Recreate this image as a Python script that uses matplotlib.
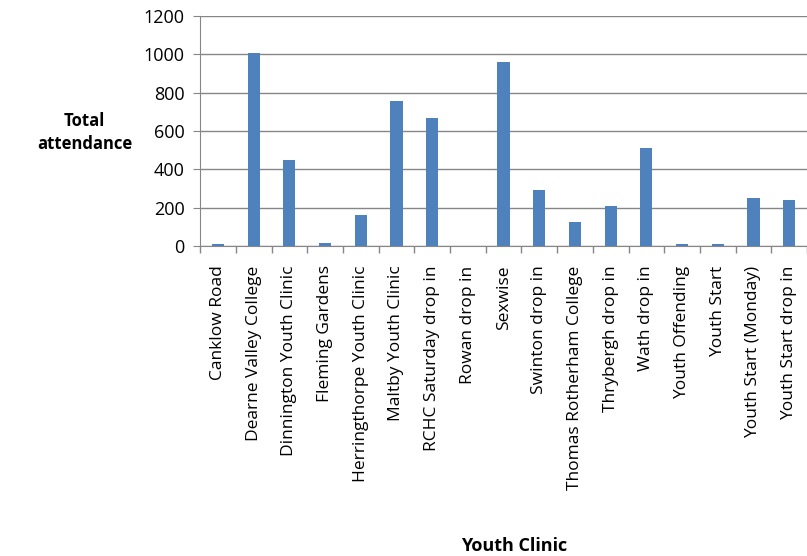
import numpy as np
import matplotlib
matplotlib.use("Agg")
import matplotlib.pyplot as plt

clinics = ['Canklow Road', 'Dearne Valley College', 'Dinnington Youth Clinic',
           'Fleming Gardens', 'Herringthorpe Youth Clinic', 'Maltby Youth Clinic',
           'RCHC Saturday drop in', 'Rowan drop in', 'Sexwise', 'Swinton drop in',
           'Thomas Rotherham College', 'Thrybergh drop in', 'Wath drop in',
           'Youth Offending', 'Youth Start', 'Youth Start (Monday)', 'Youth Start drop in']
attendance = [10, 1007, 449, 16, 162, 757, 668, 0, 960, 292, 125, 209, 511, 9, 9, 250, 240]

plt.rcParams['font.family'] = ['Open Sans', 'DejaVu Sans']

fig = plt.figure(figsize=(8.07, 5.56), dpi=100)
ax = fig.add_axes([0.248, 0.5576, 0.752, 0.4136])

x = np.arange(len(clinics))
ax.bar(x, attendance, width=0.34, color='#4f81bd', zorder=3)

ax.set_xlim(-0.5, len(clinics) - 0.5)
ax.set_ylim(0, 1200)
ax.set_yticks(range(0, 1201, 200))
ax.yaxis.grid(True, color='#868686', linewidth=1, zorder=0)

ax.set_xticks(x)
ax.set_xticklabels(clinics, rotation=90, fontsize=12.5)
ax.set_xticks(np.arange(-0.5, len(clinics)), minor=True)
ax.tick_params(axis='x', which='major', length=0, pad=14)
ax.tick_params(axis='x', which='minor', length=5, color='#868686', width=1)
ax.tick_params(axis='y', length=5, color='#868686', labelsize=13, direction='out', pad=6)

for s in ['top', 'right']:
    ax.spines[s].set_visible(False)
for s in ['left', 'bottom']:
    ax.spines[s].set_color('#868686')

fig.text(0.105, 0.762, 'Total\nattendance', fontsize=12, fontweight='bold',
         ha='center', va='center', linespacing=1.35)
fig.text(0.637, 0.018, 'Youth Clinic', fontsize=13, fontweight='bold',
         ha='center', va='center')

fig.savefig('out.png', dpi=100)
